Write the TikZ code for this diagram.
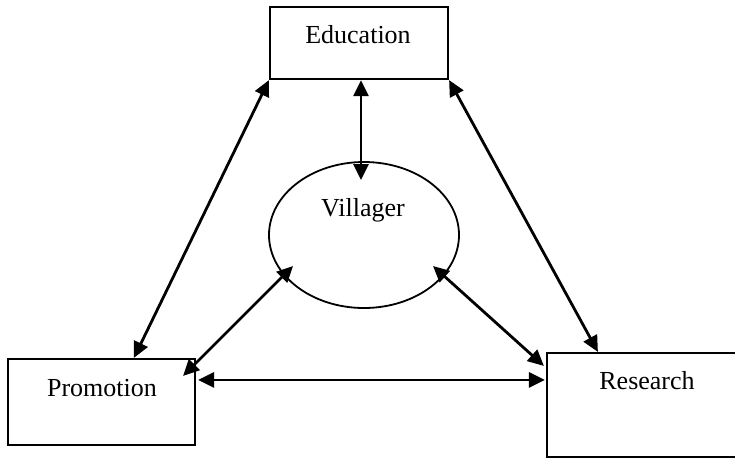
\documentclass[tikz,border=0pt]{standalone}
\usepackage{fontspec}
\setmainfont{Liberation Serif}
\usetikzlibrary{arrows.meta,shapes.geometric}
\begin{document}
\begin{tikzpicture}[x=1pt,y=-1pt,
  boxnode/.style={draw,line width=2.2pt,rectangle,inner sep=0pt},
  label/.style={font=\fontsize{26}{30}\selectfont,inner sep=0pt,anchor=center},
  link/.style={line width=2.8pt,{Triangle[length=16pt,width=15pt]}-{Triangle[length=16pt,width=15pt]}}]
\useasboundingbox (0,0) rectangle (735,459);
\clip (0,0) rectangle (735,459);
\node[boxnode,minimum width=178pt,minimum height=72pt] (edu) at (359,43) {};
\node[label] (edut) at (358,35) {Education};
\node[boxnode,minimum width=187pt,minimum height=86pt] (prom) at (101.5,402) {};
\node[label] (promt) at (102,388) {Promotion};
\node[boxnode,minimum width=213pt,minimum height=104pt] (res) at (653.5,405) {};
\node[label] (rest) at (647,381) {Research};
\node[draw,line width=1.8pt,ellipse,minimum width=190pt,minimum height=146pt,inner sep=0pt] (vil) at (364,235) {};
\node[label] (vilt) at (363,210) {Villager};
\draw[link] (edu.south west) -- ([xshift=127pt]prom.north west);
\draw[link] (edu.south east) -- ([xshift=52pt]res.north west);
\draw[link] ([xshift=2pt]edu.south) -- ([xshift=-3pt,yshift=55pt]vil.center);
\draw[link] ([xshift=-71pt,yshift=-31pt]vil.center) -- ([xshift=-13pt,yshift=-18pt]prom.north east);
\draw[link] ([xshift=69pt,yshift=-31pt]vil.center) -- ([xshift=-2pt,yshift=-14pt]res.north west);
\draw[link] ([xshift=2pt,yshift=-22pt]prom.north east) -- ([xshift=-1pt,yshift=-28pt]res.north west);
\end{tikzpicture}
\end{document}
